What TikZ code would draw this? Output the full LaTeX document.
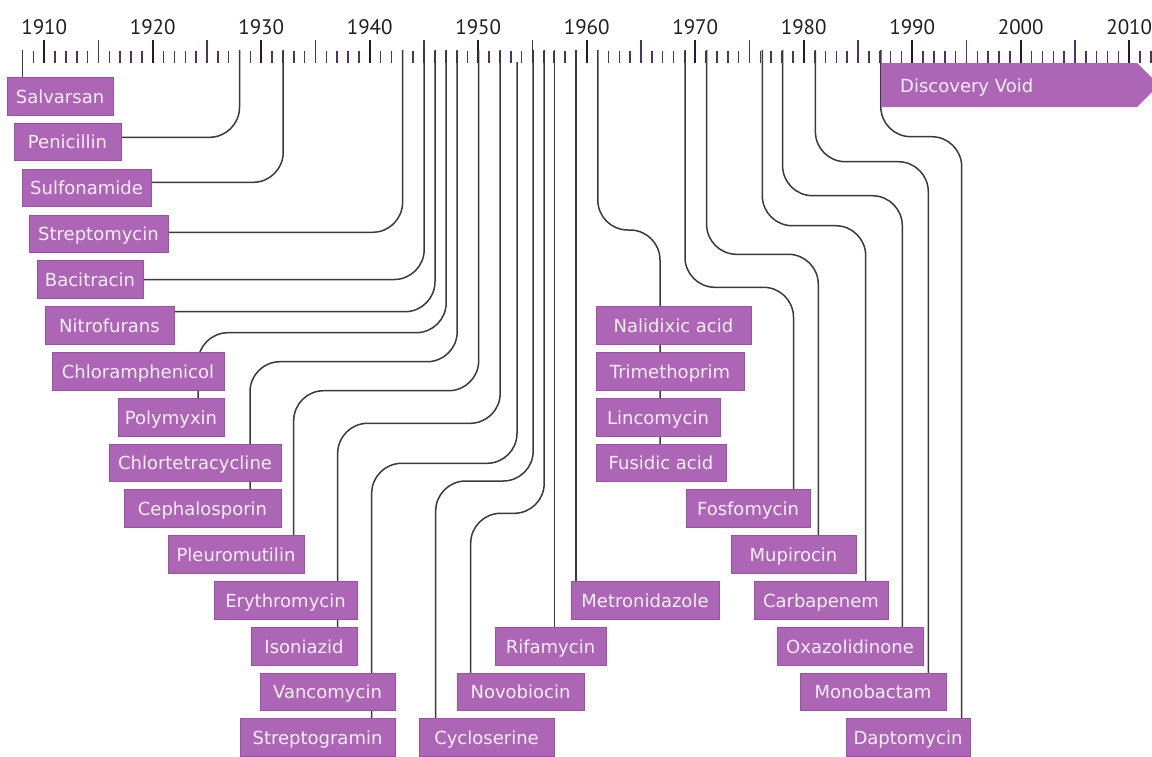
\documentclass[tikz,border=0pt]{standalone}
\usepackage{fontspec}
\setmainfont{DejaVu Sans}
\newfontfamily\yearfont{PT Sans}
\definecolor{boxfill}{HTML}{AD66B5}
\definecolor{boxline}{HTML}{9A52A4}
\definecolor{boxtext}{HTML}{F6EEF6}
\definecolor{tickdark}{HTML}{2A1438}
\definecolor{tickmid}{HTML}{4E3460}
\definecolor{connline}{HTML}{3A3A3A}
\pgfdeclarelayer{bg}
\pgfsetlayers{bg,main}
\begin{document}
\begin{tikzpicture}[x=1pt,y=-1pt,
  box/.style={draw=boxline, line width=0.8pt, fill=boxfill, text=boxtext, inner sep=0pt,
    minimum height=37.5pt, text height=13.1pt, text depth=0pt, font=\fontsize{18}{20}\selectfont},
  conn/.style={draw=connline, line width=1.5pt, rounded corners=30pt},
  yearlab/.style={inner sep=0pt, text=black!88, font=\yearfont\fontsize{21}{24}\selectfont},
  tickbig/.style={draw=tickdark, line width=2.2pt},
  tickfive/.style={draw=tickmid, line width=1.8pt},
  ticksmall/.style={draw=tickmid, line width=1.5pt}]
\useasboundingbox (0,0) rectangle (1152,756);

% ---------- boxes ----------
\node[box, minimum width=106pt] (salv)  at (60,96.5)   {Salvarsan};
\node[box, minimum width=107pt] (peni)  at (67.5,142)  {Penicillin};
\node[box, minimum width=129pt] (sulf)  at (86.5,188)  {Sulfonamide};
\node[box, minimum width=139pt] (strep) at (98.5,234)  {Streptomycin};
\node[box, minimum width=106pt] (baci)  at (90,279.5)  {Bacitracin};
\node[box, minimum width=129pt] (nitro) at (109.5,325.5) {Nitrofurans};
\node[box, minimum width=172pt] (chlor) at (138,371.5) {Chloramphenicol};
\node[box, minimum width=106pt] (poly)  at (171,417.5) {Polymyxin};
\node[box, minimum width=172pt] (chlt)  at (195,463)   {Chlortetracycline};
\node[box, minimum width=157pt] (ceph)  at (202.5,508.5) {Cephalosporin};
\node[box, minimum width=136pt] (pleu)  at (236,554.5) {Pleuromutilin};
\node[box, minimum width=143pt] (eryt)  at (285.5,600.5) {Erythromycin};
\node[box, minimum width=106pt] (ison)  at (304,646.5) {Isoniazid};
\node[box, minimum width=135pt] (vanc)  at (327.5,692) {Vancomycin};
\node[box, minimum width=155pt] (sgram) at (317.5,737.5) {Streptogramin};

\node[box, minimum width=155pt] (nali)  at (673.5,325.5) {Nalidixic acid};
\node[box, minimum width=148pt] (trim)  at (670,371.5) {Trimethoprim};
\node[box, minimum width=124pt] (linc)  at (658,417.5) {Lincomycin};
\node[box, minimum width=130pt] (fusi)  at (661,463)   {Fusidic acid};
\node[box, minimum width=148pt] (metro) at (645,600.5) {Metronidazole};
\node[box, minimum width=111pt] (rifa)  at (550.5,646.5) {Rifamycin};
\node[box, minimum width=127pt] (novo)  at (520.5,692) {Novobiocin};
\node[box, minimum width=135pt] (cycl)  at (486.5,737.5) {Cycloserine};

\node[box, minimum width=124pt] (fosf)  at (748,508.5) {Fosfomycin};
\node[box, minimum width=125pt] (mupi)  at (793.5,554.5) {Mupirocin};
\node[box, minimum width=134pt] (carb)  at (821,600.5) {Carbapenem};
\node[box, minimum width=146pt] (oxaz)  at (850,646.5) {Oxazolidinone};
\node[box, minimum width=146pt] (mono)  at (873,692)   {Monobactam};
\node[box, minimum width=124pt] (dapt)  at (908,737.5) {Daptomycin};

% ---------- discovery void arrow ----------
\fill[boxfill] (881,63) -- (1137,63) -- (1159,85) -- (1137,107) -- (881,107) -- cycle;
\node[inner sep=0pt, anchor=west, text=boxtext, text height=13.1pt, text depth=0pt,
  font=\fontsize{18}{20}\selectfont] (void) at (900,86) {Discovery Void};

% ---------- year labels ----------
\foreach \yr in {1910,1920,...,2010}{
  \pgfmathsetmacro\tx{152.7+(\yr-1920)*10.85}
  \node[yearlab] (yr\yr) at (\tx,27.5) {\yr};
}

% ---------- connector start points ----------
\coordinate (t-salv)  at (22.6,50);
\coordinate (t-peni)  at (239.5,50);
\coordinate (t-sulf)  at (283.2,50);
\coordinate (t-strep) at (402.6,50);
\coordinate (t-baci)  at (424.2,50);
\coordinate (t-nitro) at (435.0,50);
\coordinate (t-chlor) at (446.2,50);
\coordinate (t-chlt)  at (457.2,50);
\coordinate (t-pleu)  at (478.7,50);
\coordinate (t-eryt)  at (500.2,50);
\coordinate (t-vanc)  at (517.0,62);
\coordinate (t-cycl)  at (533.2,50);
\coordinate (t-novo)  at (544.2,50);
\coordinate (t-rifa)  at (554.6,50);
\coordinate (t-metro) at (576.2,50);
\coordinate (t-nali)  at (597.8,50);
\coordinate (t-fosf)  at (685.0,50);
\coordinate (t-mupi)  at (706.6,50);
\coordinate (t-carb)  at (762.3,50);
\coordinate (t-oxaz)  at (782.6,50);
\coordinate (t-mono)  at (815.4,50);
\coordinate (t-dapt)  at (880.8,50);

% bend points
\coordinate (b-chlor) at (198,332.7);
\coordinate (b-chlt)  at (250,361.7);
\coordinate (b-pleu)  at (293.7,390.7);
\coordinate (b-eryt)  at (337.7,423.3);
\coordinate (b-vanc)  at (371.7,463.3);
\coordinate (b-cycl)  at (435.7,481);
\coordinate (b-novo)  at (470.7,513.3);
\coordinate (b-nali)  at (660,230);
\coordinate (b-fosf)  at (793.5,287.3);
\coordinate (b-mupi)  at (818.3,254.3);
\coordinate (b-carb)  at (865.7,225.7);
\coordinate (b-oxaz)  at (902.3,195.7);
\coordinate (b-mono)  at (928.3,161.7);
\coordinate (b-dapt)  at (961.7,136.7);

\begin{pgfonlayer}{bg}
% ticks
\foreach \yr in {1908,...,2012}{
  \pgfmathsetmacro\tx{152.7+(\yr-1920)*10.85}
  \pgfmathtruncatemacro\mt{mod(\yr,10)}
  \pgfmathtruncatemacro\mf{mod(\yr,5)}
  \ifnum\mt=0
    \draw[tickbig] (\tx,40) -- (\tx,62.5);
  \else\ifnum\mf=0
    \draw[tickfive] (\tx,40) -- (\tx,62.5);
  \else
    \draw[ticksmall] (\tx,50.5) -- (\tx,62.5);
  \fi\fi
}
% connectors
\draw[conn] (t-salv) -- (t-salv |- salv.center);
\draw[conn] (t-peni) |- ([yshift=4.7pt]peni.east);
\draw[conn] (t-sulf) |- ([yshift=5.7pt]sulf.east);
\draw[conn] (t-strep) |- ([yshift=1.7pt]strep.east);
\draw[conn] (t-baci) |- (baci.east);
\draw[conn] (t-nitro) |- ([yshift=13.8pt]nitro.east);
\draw[conn] (t-chlor) |- (b-chlor) -- (b-chlor |- poly.center);
\draw[conn] (t-chlt) |- (b-chlt) -- (b-chlt |- ceph.center);
\draw[conn] (t-pleu) |- (b-pleu) -- (b-pleu |- pleu.center);
\draw[conn] (t-eryt) |- (b-eryt) -- (b-eryt |- ison.center);
\draw[conn] (t-vanc) |- (b-vanc) -- (b-vanc |- sgram.center);
\draw[conn] (t-cycl) |- (b-cycl) -- (b-cycl |- cycl.center);
\draw[conn] (t-novo) |- (b-novo) -- (b-novo |- novo.center);
\draw[conn] (t-rifa) -- (t-rifa |- rifa.center);
\draw[conn] (t-metro) -- (t-metro |- metro.center);
\draw[conn] (t-nali) |- (b-nali) -- (b-nali |- fusi.center);
\draw[conn] (t-fosf) |- (b-fosf) -- (b-fosf |- fosf.center);
\draw[conn] (t-mupi) |- (b-mupi) -- (b-mupi |- mupi.center);
\draw[conn] (t-carb) |- (b-carb) -- (b-carb |- carb.center);
\draw[conn] (t-oxaz) |- (b-oxaz) -- (b-oxaz |- oxaz.center);
\draw[conn] (t-mono) |- (b-mono) -- (b-mono |- mono.center);
\draw[conn] (t-dapt) |- (b-dapt) -- (b-dapt |- dapt.center);
\end{pgfonlayer}
\end{tikzpicture}
\end{document}
